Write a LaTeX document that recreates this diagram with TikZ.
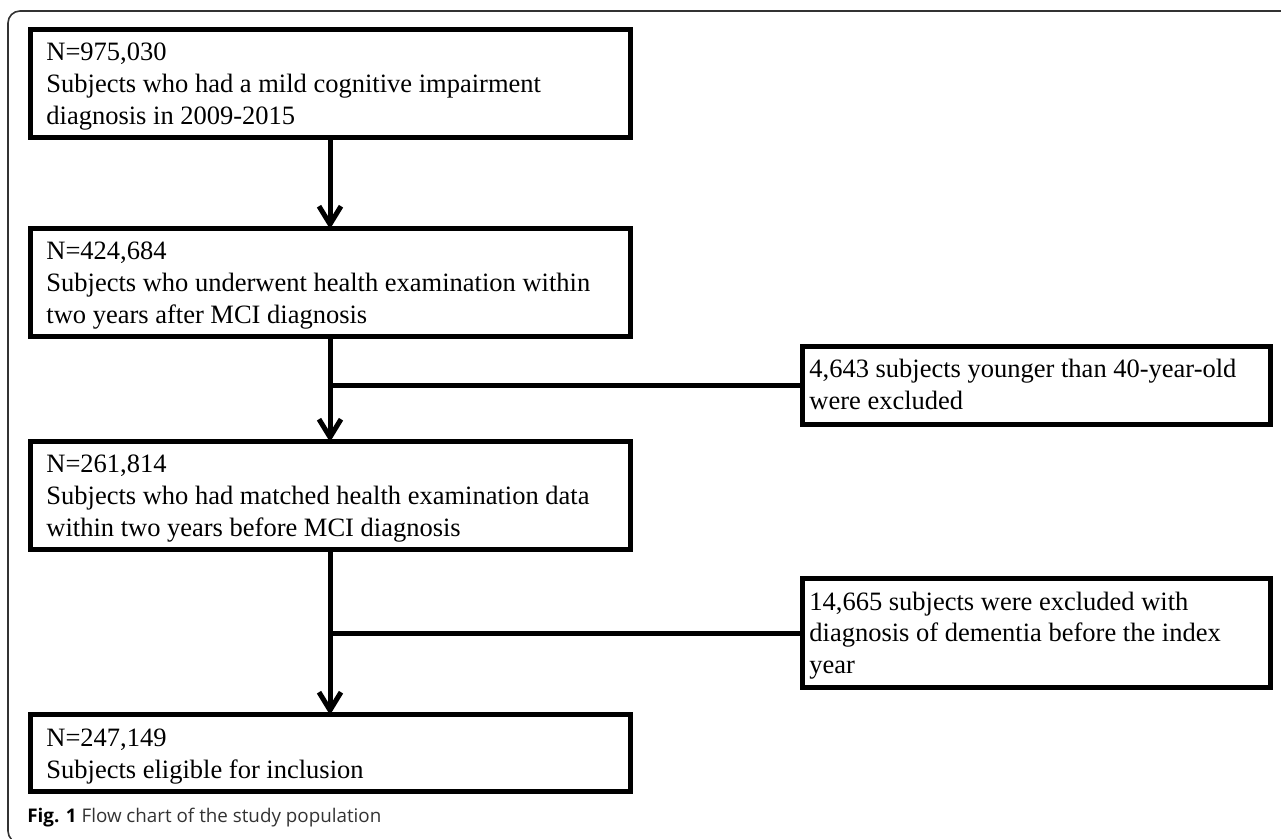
\documentclass[tikz,border=0pt]{standalone}
\usepackage{fontspec}
\setmainfont{Liberation Serif}
\newfontfamily\capfont{Open Sans}
\usetikzlibrary{arrows.meta}
\begin{document}
\begin{tikzpicture}[x=0.5pt,y=-0.5pt,
  box/.style={draw=black, line width=2.5pt, inner sep=0pt, outer sep=0pt, fill=white},
  txt/.style={anchor=base west, align=left, inner sep=0pt, font=\fontsize{13.25}{16}\selectfont},
  conn/.style={line width=2.5pt},
  arr/.style={conn, -{Straight Barb[length=9pt,width=11pt]}},
  frame/.style={draw=black!80, line width=0.8pt, rounded corners=6pt},
  captxt/.style={anchor=base west, inner sep=0pt, font=\capfont\fontsize{9.4}{11}\selectfont}
]
\useasboundingbox (0,0) rectangle (1281,839);
\begin{scope}
\clip (0,0) rectangle (1281,839);
\draw[frame] (1300,11) -- (8,11) -- (8,843) -- (1300,843);
\end{scope}

\node[box, minimum width=300pt, minimum height=54pt] (b1) at (330,84) {};
\node[box, minimum width=300pt, minimum height=54pt] (b2) at (330,283) {};
\node[box, minimum width=300pt, minimum height=54pt] (b3) at (330,496) {};
\node[box, minimum width=300pt, minimum height=38pt] (b4) at (330,753) {};
\node[box, minimum width=234pt, minimum height=39pt] (e1) at (1036,386) {};
\node[box, minimum width=234pt, minimum height=54.5pt] (e2) at (1036,633.5) {};

\node[txt] (t1) at (46,125) {N=975,030\\Subjects who had a mild cognitive impairment\\diagnosis in 2009-2015};
\node[txt] (t2) at (46,324) {N=424,684\\Subjects who underwent health examination within\\two years after MCI diagnosis};
\node[txt] (t3) at (46,537) {N=261,814\\Subjects who had matched health examination data\\within two years before MCI diagnosis};
\node[txt] (t4) at (46,778) {N=247,149\\Subjects eligible for inclusion};
\node[txt] (te1) at (809,410) {4,643 subjects younger than 40-year-old\\were excluded};
\node[txt] (te2) at (809,674) {14,665 subjects were excluded with\\diagnosis of dementia before the index\\year};

\draw[arr] (b1.south) -- (b2.north);
\draw[arr] (b2.south) -- (b3.north);
\draw[conn] (e1.west) -- (e1.west -| b2.south);
\draw[arr] (b3.south) -- (b4.north);
\draw[conn] (e2.west) -- (e2.west -| b3.south);

\node[captxt] (caption) at (27,822) {\textbf{Fig. 1} \textcolor{black!80}{Flow chart of the study population}};
\end{tikzpicture}
\end{document}
